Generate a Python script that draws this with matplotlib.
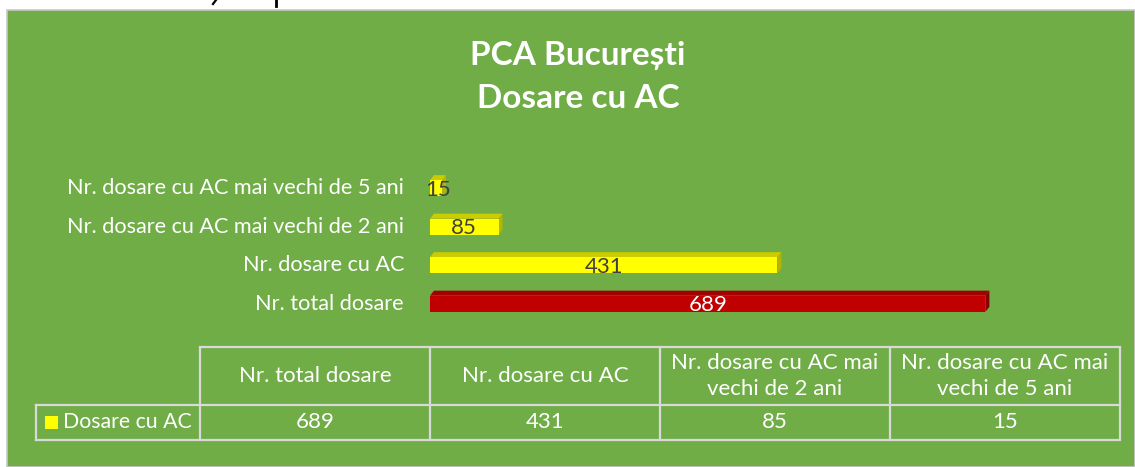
import matplotlib
matplotlib.use("Agg")
import matplotlib.pyplot as plt
from matplotlib.patches import Rectangle, Polygon

# ---- data ----
categories = ["Nr. total dosare", "Nr. dosare cu AC",
              "Nr. dosare cu AC mai vechi de 2 ani",
              "Nr. dosare cu AC mai vechi de 5 ani"]
values = [689, 431, 85, 15]
table_headers = ["Nr. total dosare", "Nr. dosare cu AC",
                 "Nr. dosare cu AC mai\nvechi de 2 ani",
                 "Nr. dosare cu AC mai\nvechi de 5 ani"]
series_name = "Dosare cu AC"
title_lines = ["PCA București", "Dosare cu AC"]

# ---- style ----
W, H = 1135, 467
DPI = 100
GREEN = "#70AD47"
YELLOW = "#FFFF00"
YELLOW_TOP = "#CCCC00"
YELLOW_SIDE = "#B5B500"
RED = "#C00000"
RED_TOP = "#A00000"
RED_SIDE = "#880000"
GRID = "#D9D9D9"
FONT = ["Lato", "DejaVu Sans"]
plt.rcParams["font.family"] = FONT
FS = 16

fig = plt.figure(figsize=(W / DPI, H / DPI), dpi=DPI)
fig.patch.set_facecolor("white")

def fx(x):
    return x / W

def fy(y):
    return 1 - y / H

# background axes in pixel coordinates
bg = fig.add_axes([0, 0, 1, 1])
bg.set_xlim(0, W)
bg.set_ylim(H, 0)
bg.axis("off")
bg.add_patch(Rectangle((7, 10), W - 7, H - 10, facecolor=GREEN,
                       edgecolor="#C8C8C8", linewidth=1.2))

# cut-off glyph fragments of the document line above
bg.plot([216, 213], [0, 4], color="black", lw=1.6)
bg.plot([276, 276], [0, 6], color="black", lw=2)

# title
bg.text(578, 55, title_lines[0], color="white", fontsize=24, fontweight="bold",
        ha="center", va="center")
bg.text(578, 99, title_lines[1], color="white", fontsize=24, fontweight="bold",
        ha="center", va="center")

# ---- bar axes ----
left, right, top, bottom = 430, 1120, 169, 323
XMAX = 856
ax = fig.add_axes([fx(left), fy(bottom), fx(right - left), (bottom - top) / H])
ax.set_xlim(0, XMAX)
ax.set_ylim(-0.5, 3.5)
ax.axis("off")
ax.patch.set_alpha(0)

pos = list(range(len(values)))
colors = [RED, YELLOW, YELLOW, YELLOW]
tops = [RED_TOP, YELLOW_TOP, YELLOW_TOP, YELLOW_TOP]
sides = [RED_SIDE, YELLOW_SIDE, YELLOW_SIDE, YELLOW_SIDE]
bh = 0.42
ddx = 4 * XMAX / (right - left)      # depth 4 px right
ddy = 5 * 4.0 / (bottom - top)       # depth 5 px up

bars = ax.barh(pos, values, height=bh, color=colors, linewidth=0, zorder=3)
for b, ct, cs in zip(bars, tops, sides):
    x0, y0 = b.get_x(), b.get_y()
    x1, y1 = x0 + b.get_width(), y0 + b.get_height()
    ax.add_patch(Polygon([(x0, y1), (x1, y1), (x1 + ddx, y1 + ddy),
                          (x0 + ddx, y1 + ddy)], closed=True, facecolor=ct,
                         edgecolor="none", zorder=2))
    ax.add_patch(Polygon([(x1, y0), (x1, y1), (x1 + ddx, y1 + ddy),
                          (x1 + ddx, y0 + ddy)], closed=True, facecolor=cs,
                         edgecolor="none", zorder=2))

for p, v, c in zip(pos, values, colors):
    tc = "white" if c == RED else "#404040"
    ax.text(v / 2 + (0 if v > 50 else 2), p - 0.04, str(v), ha="center",
            va="center", fontsize=FS, color=tc, zorder=5)

# category labels
lab_x = -26 * XMAX / (right - left)
for p, lab in zip(pos, categories):
    ax.text(lab_x, p, lab, ha="right", va="center", fontsize=15.6,
            color="white", clip_on=False)

# ---- data table ----
cols = [200, 430, 660, 890, 1120]
ytop, ymid, ybot = 347, 405, 440
lw = 1.6
for x in cols:
    bg.plot([x, x], [ytop, ybot], color=GRID, lw=lw, solid_capstyle="butt")
bg.plot([cols[0], cols[-1]], [ytop, ytop], color=GRID, lw=lw)
bg.plot([36, cols[-1]], [ymid, ymid], color=GRID, lw=lw)
bg.plot([36, cols[-1]], [ybot, ybot], color=GRID, lw=lw)
bg.plot([36, 36], [ymid, ybot], color=GRID, lw=lw)

for i, h in enumerate(table_headers):
    xc = (cols[i] + cols[i + 1]) / 2
    bg.text(xc, (ytop + ymid) / 2, h, ha="center", va="center",
            fontsize=FS, color="white", linespacing=1.4)
for i, v in enumerate(values):
    xc = (cols[i] + cols[i + 1]) / 2
    bg.text(xc, (ymid + ybot) / 2, str(v), ha="center", va="center",
            fontsize=FS, color="white")

# legend key
bg.add_patch(Rectangle((45, 416), 13, 13, facecolor=YELLOW, edgecolor="none"))
bg.text(63, (ymid + ybot) / 2, series_name, ha="left", va="center",
        fontsize=15.3, color="white")

fig.savefig("out.png", dpi=DPI, facecolor="white")
